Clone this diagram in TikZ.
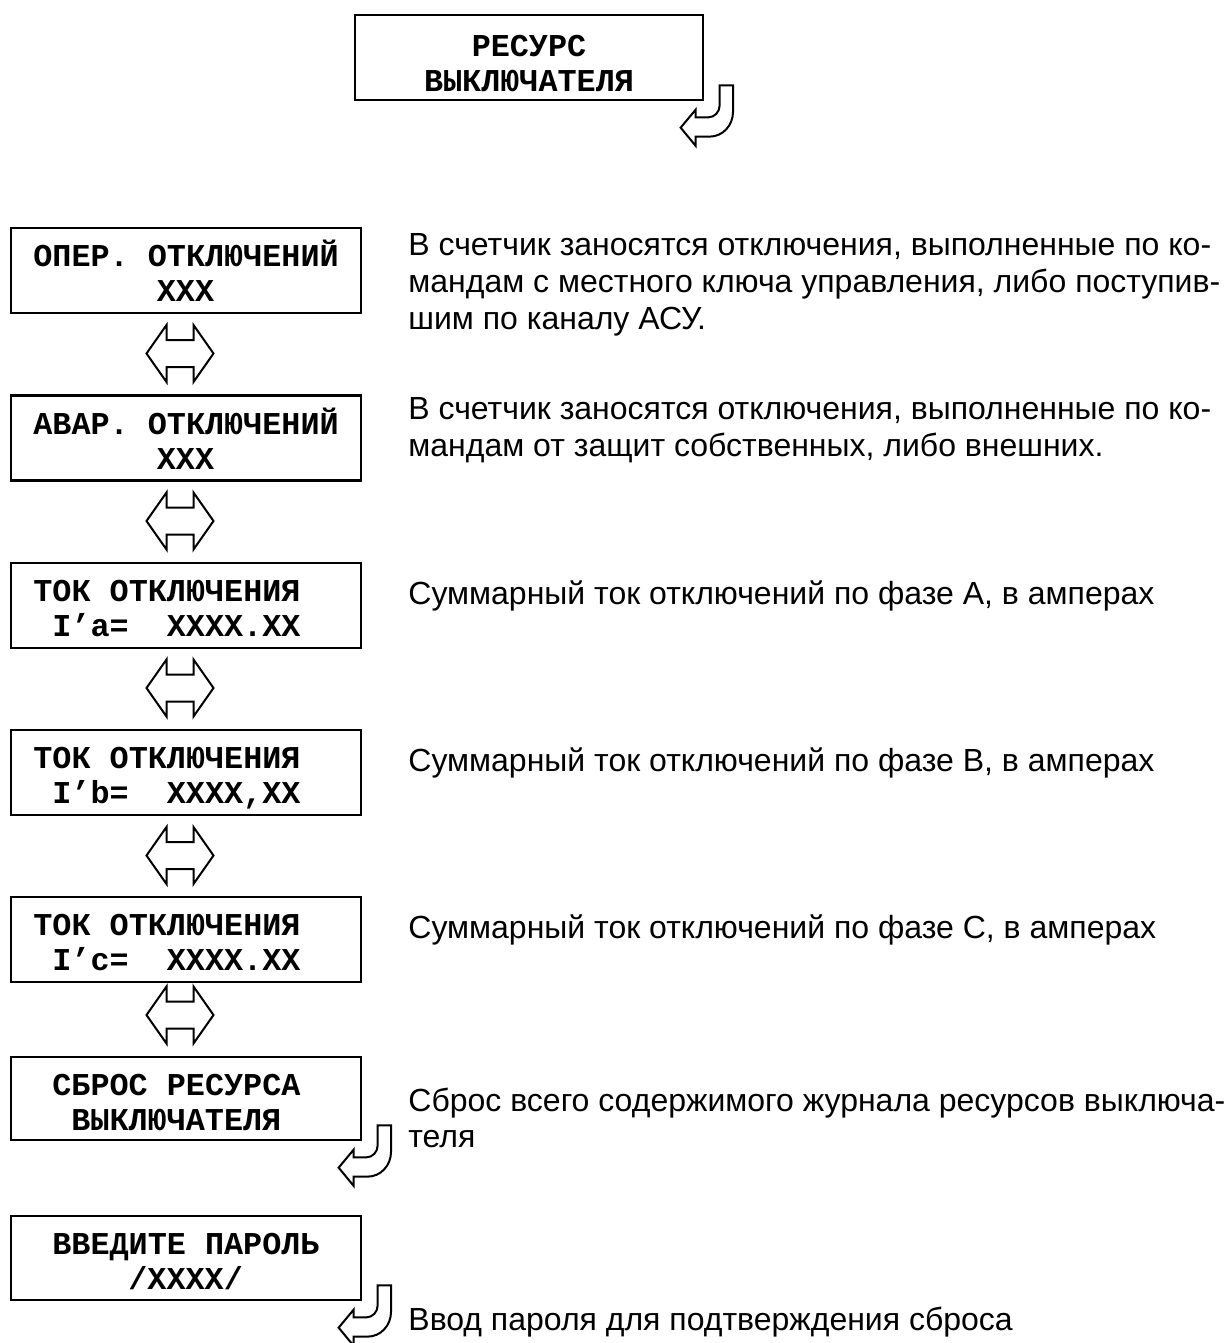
\documentclass[tikz,border=0pt]{standalone}
\usepackage{fontspec}
\setmainfont{Liberation Sans}
\newfontfamily\lcdfont{Liberation Mono}
\begin{document}
\begin{tikzpicture}[x=0.5pt,y=-0.5pt,
  scr/.style={draw, line width=1.35pt, minimum width=175pt, minimum height=42.5pt, inner sep=0pt},
  lcd/.style={font=\lcdfont\bfseries\fontsize{15.9}{18}\selectfont, inner sep=0pt, anchor=base west},
  lcdc/.style={lcd, anchor=base},
  note/.style={font=\fontsize{16}{18}\selectfont, inner sep=0pt, anchor=base west},
  dblstyle/.style={draw, line width=1pt, fill=white, line join=miter},
  hookstyle/.style={draw, line width=1pt, fill=white, line join=miter},
  updown/.pic={\draw[dblstyle] (-33.5,0) -- (-13.5,-28.5) -- (-13.5,-13.5) -- (13.5,-13.5) -- (13.5,-28.5) -- (33.5,0) -- (13.5,28.5) -- (13.5,13.5) -- (-13.5,13.5) -- (-13.5,28.5) -- cycle;},
  hookarrow/.pic={\draw[hookstyle] (15.3,-16) -- (28.7,-16) -- (28.7,10) .. controls (28.7,24.5) and (18.2,35.3) .. (5,35.3) -- (-8.7,35.3) -- (-8.7,44.5) -- (-23.7,26.3) -- (-8.7,8.3) -- (-8.7,16) -- (4,16) .. controls (10.2,16) and (15.3,10.6) .. (15.3,4) -- cycle;}
]
\useasboundingbox (0,0) rectangle (1231,1343);

% top box
\node[scr, minimum width=174pt] (top) at (529,57.5) {};
\node[lcdc] (top1) at (529,57) {РЕСУРС};
\node[lcdc] (top2) at (529,92) {ВЫКЛЮЧАТЕЛЯ};
\pic at (top.south east) {hookarrow};

% screens
\node[scr] (b1) at (186,270.5) {};
\node[lcd] (b1a) at (33,266) {ОПЕР. ОТКЛЮЧЕНИЙ};
\node[lcdc] (b1b) at (185.5,301) {XXX};

\node[scr] (b2) at (186,438) {};
\node[lcd] (b2a) at (33,434) {АВАР. ОТКЛЮЧЕНИЙ};
\node[lcdc] (b2b) at (185.5,469) {XXX};

\node[scr] (b3) at (186,605.5) {};
\node[lcd] (b3a) at (33,601) {ТОК ОТКЛЮЧЕНИЯ};
\node[lcd] (b3b) at (52,636) {I’a=\hphantom{XX}XXXX.XX};

\node[scr] (b4) at (186,772.5) {};
\node[lcd] (b4a) at (33,768) {ТОК ОТКЛЮЧЕНИЯ};
\node[lcd] (b4b) at (52,803) {I’b=\hphantom{XX}XXXX,XX};

\node[scr] (b5) at (186,939.5) {};
\node[lcd] (b5a) at (33,935) {ТОК ОТКЛЮЧЕНИЯ};
\node[lcd] (b5b) at (52,970) {I’c=\hphantom{XX}XXXX.XX};

\node[scr, minimum height=41.5pt] (b6) at (186,1098.5) {};
\node[lcd] (b6a) at (52,1095) {СБРОС РЕСУРСА};
\node[lcd] (b6b) at (71,1130) {ВЫКЛЮЧАТЕЛЯ};
\pic at (b6.south east) {hookarrow};

\node[scr, minimum height=42pt] (b7) at (186,1258) {};
\node[lcd] (b7a) at (52,1254) {ВВЕДИТЕ ПАРОЛЬ};
\node[lcd] (b7b) at (128,1289) {/XXXX/};
\pic at (b7.south east) {hookarrow};

% double arrows
\pic at (180,353.5) {updown};
\pic at (180,521) {updown};
\pic at (180,688) {updown};
\pic at (180,855.5) {updown};
\pic at (180,1015) {updown};

% notes
\node[note] (n1a) at (408,255) {В счетчик заносятся отключения, выполненные по ко-};
\node[note] (n1b) at (408,292) {мандам с местного ключа управления, либо поступив-};
\node[note] (n1c) at (408,329) {шим по каналу АСУ.};
\node[note] (n2a) at (408,419) {В счетчик заносятся отключения, выполненные по ко-};
\node[note] (n2b) at (408,456) {мандам от защит собственных, либо внешних.};
\node[note] (n3) at (408,604) {Суммарный ток отключений по фазе А, в амперах};
\node[note] (n4) at (408,771) {Суммарный ток отключений по фазе В, в амперах};
\node[note] (n5) at (408,938) {Суммарный ток отключений по фазе С, в амперах};
\node[note] (n6a) at (408,1111) {Сброс всего содержимого журнала ресурсов выключа-};
\node[note] (n6b) at (408,1147) {теля};
\node[note] (n7) at (408,1330) {Ввод пароля для подтверждения сброса};
\end{tikzpicture}
\end{document}
